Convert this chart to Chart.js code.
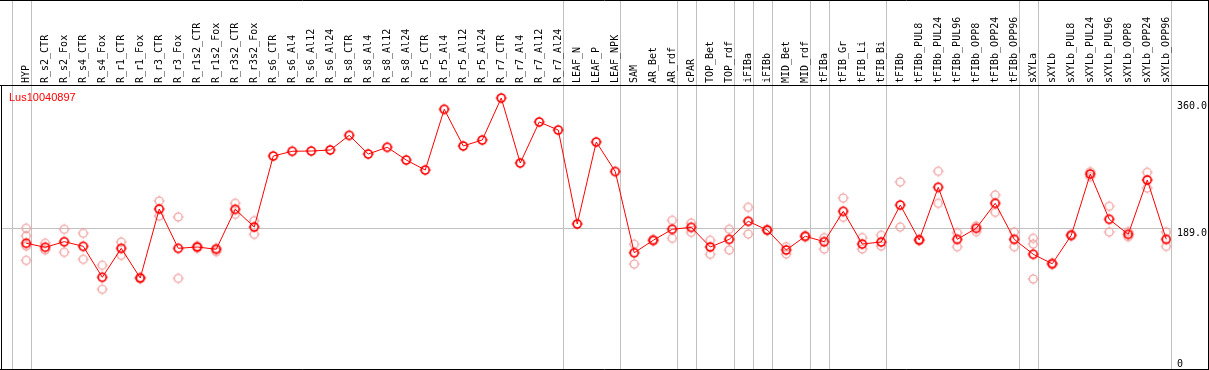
<!DOCTYPE html>
<html><head><meta charset="utf-8">
<script src="https://cdn.jsdelivr.net/npm/chart.js@4/dist/chart.umd.min.js"></script>
<style>html,body{margin:0;padding:0;background:#fff;overflow:hidden}#wrap{width:1209px;height:370px;position:relative}</style>
</head><body><div id="wrap"><canvas id="c" width="1209" height="370"></canvas></div>
<script>
const geneId = 'Lus10040897';
const categories = ['HYP','R_s2_CTR','R_s2_Fox','R_s4_CTR','R_s4_Fox','R_r1_CTR','R_r1_Fox','R_r3_CTR','R_r3_Fox','R_r1s2_CTR','R_r1s2_Fox','R_r3s2_CTR','R_r3s2_Fox','R_s6_CTR','R_s6_Al4','R_s6_Al12','R_s6_Al24','R_s8_CTR','R_s8_Al4','R_s8_Al12','R_s8_Al24','R_r5_CTR','R_r5_Al4','R_r5_Al12','R_r5_Al24','R_r7_CTR','R_r7_Al4','R_r7_Al12','R_r7_Al24','LEAF_N','LEAF_P','LEAF_NPK','SAM','AR_Bet','AR_rdf','cPAR','TOP_Bet','TOP_rdf','iFIBa','iFIBb','MID_Bet','MID_rdf','tFIBa','tFIB_Gr','tFIB_Li','tFIB_Bi','tFIBb','tFIBb_PUL8','tFIBb_PUL24','tFIBb_PUL96','tFIBb_OPP8','tFIBb_OPP24','tFIBb_OPP96','sXYLa','sXYLb','sXYLb_PUL8','sXYLb_PUL24','sXYLb_PUL96','sXYLb_OPP8','sXYLb_OPP24','sXYLb_OPP96'];
const meanValues = [168.9,163.5,171.0,164.8,123.2,162.1,122.2,214.9,162.1,163.9,160.8,214.5,190.7,286.1,292.5,292.8,294.2,313.9,288.8,297.8,280.7,267.3,348.9,299.6,307.6,364.0,276.7,331.8,321.0,194.8,304.9,265.3,156.2,172.9,187.7,190.3,163.9,174.2,198.4,186.7,159.9,178.3,171.0,211.8,167.9,170.6,220.3,173.3,244.1,174.2,189.0,222.6,174.2,154.1,141.4,179.6,261.9,201.1,180.9,253.9,174.2];
const rep1 = [189.0,168.9,187.7,182.3,139.3,170.6,123.2,225.7,204.2,165.6,162.5,222.6,199.2,null,null,null,null,null,null,null,null,null,null,null,null,null,null,null,null,null,null,null,167.5,174.2,199.7,196.1,172.9,187.7,217.2,187.7,164.3,179.1,176.4,229.7,176.4,179.6,251.2,174.5,265.6,183.1,192.1,233.7,184.0,175.6,142.5,180.9,265.0,218.6,184.4,264.2,184.0];
const rep2 = [146.0,159.9,156.8,147.4,107.1,152.7,121.3,205.5,121.8,162.1,157.6,207.8,180.9,null,null,null,null,null,null,null,null,null,null,null,null,null,null,null,null,null,null,null,141.0,171.9,175.6,183.6,154.1,159.9,181.3,185.8,154.5,177.3,161.2,203.8,161.2,165.2,190.7,172.0,222.6,164.3,184.4,210.5,164.3,120.9,140.3,178.7,258.3,184.0,177.7,243.1,164.8];
const rep3 = [178.7,null,null,null,null,null,null,null,null,null,null,null,null,null,null,null,null,null,null,null,null,null,null,null,null,null,null,null,null,null,null,null,null,null,null,null,null,null,null,null,null,null,null,null,null,null,null,null,null,null,null,null,null,167.9,null,null,null,null,null,null,null];
const rep4 = [165.2,null,null,null,null,null,null,null,null,null,null,null,null,null,null,null,null,null,null,null,null,null,null,null,null,null,null,null,null,null,null,null,null,null,null,null,null,null,null,null,null,null,null,null,null,null,null,null,null,null,null,null,null,null,null,null,null,null,null,null,null];
const groupEnds = [-1,0,28,31,34,35,37,38,39,41,42,45,52,53,60];
const yTicks = [0,189,360];
const yTickLabels = ['0','189.0','360.0'];

function marker(color, lw) {
  const c = document.createElement('canvas');
  c.width = 14; c.height = 14;
  const g = c.getContext('2d');
  g.strokeStyle = color; g.lineWidth = lw;
  g.beginPath(); g.arc(7, 7, 4, 0, Math.PI * 2); g.stroke();
  g.lineWidth = 1;
  g.beginPath();
  g.moveTo(7, 1.5); g.lineTo(7, 3);
  g.moveTo(7, 11); g.lineTo(7, 12.5);
  g.moveTo(1.5, 7); g.lineTo(3, 7);
  g.moveTo(11, 7); g.lineTo(12.5, 7);
  g.stroke();
  return c;
}
const mainMarker = marker('#ff0000', 1.7);
const repMarker = marker('#f09a9a', 1.2);

const toPts = arr => arr.map((v, i) => ({x: i, y: v})).filter(p => p.y !== null);

const framePlugin = {
  id: 'frame',
  afterDraw(chart) {
    const ctx = chart.ctx;
    ctx.save();
    ctx.strokeStyle = '#000'; ctx.lineWidth = 1;
    ctx.beginPath();
    ctx.moveTo(0, 0.5); ctx.lineTo(1209, 0.5);
    ctx.moveTo(1208.5, 0); ctx.lineTo(1208.5, 370);
    ctx.moveTo(0, 369.5); ctx.lineTo(1209, 369.5);
    ctx.moveTo(1.5, 85); ctx.lineTo(1.5, 370);
    ctx.moveTo(0, 85.5); ctx.lineTo(1209, 85.5);
    ctx.stroke();
    ctx.fillStyle = '#ff0000';
    ctx.font = '11px "Liberation Sans", Arial, sans-serif';
    ctx.textBaseline = 'alphabetic';
    ctx.fillText(geneId, 9, 101);
    ctx.restore();
  }
};

const sepVals = groupEnds.map(g => g + 0.25);
const xMax = 60.25;
const xMin = xMax - 1169 / 19;

function noPad(scale) {
  scale.paddingLeft = 0; scale.paddingRight = 0; scale.paddingTop = 0; scale.paddingBottom = 0;
}

new Chart(document.getElementById('c'), {
  type: 'line',
  data: {
    datasets: [
      {label: 'mean', data: toPts(meanValues), borderColor: '#ff0000', borderWidth: 1, pointStyle: mainMarker, tension: 0, order: 0, fill: false},
      {label: 'r1', data: toPts(rep1), showLine: false, pointStyle: repMarker, order: 1},
      {label: 'r2', data: toPts(rep2), showLine: false, pointStyle: repMarker, order: 2},
      {label: 'r3', data: toPts(rep3), showLine: false, pointStyle: repMarker, order: 3},
      {label: 'r4', data: toPts(rep4), showLine: false, pointStyle: repMarker, order: 4}
    ]
  },
  options: {
    responsive: false,
    animation: false,
    devicePixelRatio: 1,
    events: [],
    layout: {autoPadding: false, padding: {left: 2, right: 0, top: 0, bottom: 1}},
    plugins: {legend: {display: false}, tooltip: {enabled: false}, title: {display: false}},
    scales: {
      x: {
        type: 'linear', position: 'top', min: xMin, max: xMax,
        afterBuildTicks(scale) {
          const t = categories.map((c, i) => ({value: i})).concat(sepVals.map(v => ({value: v})));
          t.sort((a, b) => a.value - b.value);
          scale.ticks = t;
        },
        afterFit(scale) { scale.height = 85; noPad(scale); },
        ticks: {
          autoSkip: false, minRotation: 90, maxRotation: 90, padding: -83, labelOffset: 12,
          color: '#000', font: {family: '"DejaVu Sans Mono", monospace', size: 10},
          callback: v => Number.isInteger(v) ? categories[v] : ''
        },
        grid: {
          drawTicks: true, tickLength: 85, lineWidth: 1,
          color: c => Number.isInteger(c.tick.value) ? 'rgba(0,0,0,0)' : '#c0c0c0',
          tickColor: c => Number.isInteger(c.tick.value) ? 'rgba(0,0,0,0)' : '#c0c0c0'
        },
        border: {display: true, color: '#000', width: 1}
      },
      y: {
        type: 'linear', position: 'right', min: 0, max: 381.5,
        afterBuildTicks(scale) { scale.ticks = yTicks.map(v => ({value: v})); },
        afterFit(scale) { scale.width = 38; noPad(scale); },
        ticks: {
          padding: 6, color: '#000', font: {family: '"DejaVu Sans Mono", monospace', size: 10, lineHeight: 1.0},
          callback: v => { const s = yTickLabels[yTicks.indexOf(v)]; return v === 0 ? [s, ''] : ['', s]; }
        },
        grid: {
          drawTicks: false,
          color: c => c.tick && c.tick.value === 189 ? '#c0c0c0' : 'rgba(0,0,0,0)'
        },
        border: {display: false}
      }
    }
  },
  plugins: [framePlugin]
});
</script>
</body></html>
